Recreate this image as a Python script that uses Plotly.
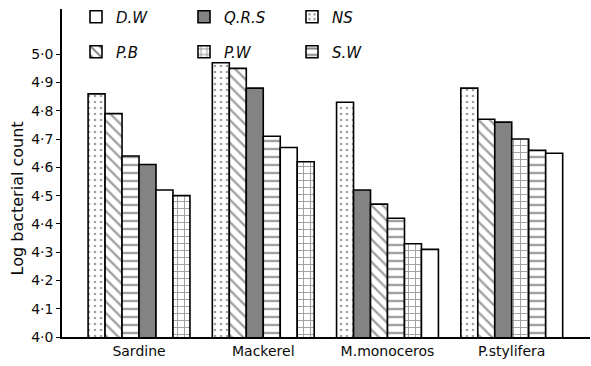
import plotly.graph_objects as go

# Fish groups on the x axis
groups = ["Sardine", "Mackerel", "M.monoceros", "P.stylifera"]

# Log bacterial count per treatment, one value per group
treatments = ["D.W", "Q.R.S", "NS", "P.B", "P.W", "S.W"]
dw = [4.52, 4.67, 4.31, 4.65]
qrs = [4.61, 4.88, 4.52, 4.76]
ns = [4.86, 4.97, 4.83, 4.88]
pb = [4.79, 4.95, 4.47, 4.77]
pw = [4.50, 4.62, 4.33, 4.70]
sw = [4.64, 4.71, 4.42, 4.66]
values = {"D.W": dw, "Q.R.S": qrs, "NS": ns, "P.B": pb, "P.W": pw, "S.W": sw}

y_ticks = [4.0, 4.1, 4.2, 4.3, 4.4, 4.5, 4.6, 4.7, 4.8, 4.9, 5.0]
y_tick_text = ["4·0", "4·1", "4·2", "4·3", "4·4", "4·5", "4·6", "4·7", "4·8", "4·9", "5·0"]

# Fill style for each treatment: (bar colour, pattern shape, pattern size, solidity)
styles = {
    "D.W": ("white", "", 8, 0.2),
    "Q.R.S": ("#838383", "", 8, 0.2),
    "NS": ("white", ".", 6, 0.16),
    "P.B": ("white", "\\", 8, 0.3),
    "P.W": ("white", "+", 7, 0.26),
    "S.W": ("white", "-", 8, 0.3),
}

LINE = dict(color="black", width=1.6)

fig = go.Figure()

# Within each group the bars run from the highest count to the lowest,
# so one trace is drawn per rank and styled bar by bar.
n_rank = len(treatments)
for rank in range(n_rank):
    ys, cols, shapes, sizes, sols = [], [], [], [], []
    for gi in range(len(groups)):
        ordered = sorted(treatments, key=lambda t: values[t][gi], reverse=True)
        t = ordered[rank]
        c, s, sz, so = styles[t]
        ys.append(values[t][gi])
        cols.append(c)
        shapes.append(s)
        sizes.append(sz)
        sols.append(so)
    fig.add_trace(go.Bar(
        x=groups, y=ys, showlegend=False, hoverinfo="x+y",
        marker=dict(color=cols, line=LINE,
                    pattern=dict(shape=shapes, size=sizes, solidity=sols,
                                 fgcolor="black", fillmode="overlay")),
    ))

# Legend swatches live on a hidden overlay axis so they do not take bar slots
row1 = ["D.W", "Q.R.S", "NS"]
row2 = ["P.B", "P.W", "S.W"]
for t in treatments:
    c, s, sz, so = styles[t]
    fig.add_trace(go.Bar(
        x=[None], y=[None], name=t, xaxis="x2", yaxis="y2",
        legend="legend" if t in row1 else "legend2",
        marker=dict(color=c, line=LINE,
                    pattern=dict(shape=s, size=sz, solidity=so,
                                 fgcolor="black", fillmode="overlay")),
    ))

FONT = "DejaVu Sans"
INK = "#0a0a0a"
PLOT_W = 591 - 62 - 1
PLOT_H = 366 - 8 - 29
legend_common = dict(
    orientation="h", xanchor="left", yanchor="middle",
    entrywidth=63, entrywidthmode="pixels",
    bgcolor="rgba(0,0,0,0)", borderwidth=0, traceorder="normal",
    font=dict(family=FONT, size=15, color=INK, style="italic"),
    itemclick=False, itemdoubleclick=False,
)

fig.update_layout(
    width=591, height=366,
    margin=dict(l=62, r=1, t=8, b=29),
    paper_bgcolor="white", plot_bgcolor="white",
    barmode="group", bargap=0.18, bargroupgap=0,
    font=dict(family=FONT, size=13, color=INK),
    xaxis=dict(range=[-0.62, 3.63], showline=True, linecolor="black", linewidth=1.6,
               ticks="", showgrid=False, zeroline=False,
               tickfont=dict(family=FONT, size=14, color=INK)),
    yaxis=dict(range=[4.0, 5.16], tickvals=y_ticks, ticktext=y_tick_text,
               ticks="outside", ticklen=4, tickwidth=1.4, tickcolor="black",
               showline=True, linecolor="black", linewidth=1.6,
               showgrid=False, zeroline=False,
               tickfont=dict(family=FONT, size=14, color=INK)),
    xaxis2=dict(overlaying="x", visible=False, range=[0, 1]),
    yaxis2=dict(overlaying="y", visible=False, range=[0, 1]),
    legend=dict(x=(76 - 62) / PLOT_W, y=(337 - 17) / PLOT_H, **legend_common),
    legend2=dict(x=(76 - 62) / PLOT_W, y=(337 - 52) / PLOT_H, **legend_common),
    annotations=[dict(
        text="Log bacterial count", textangle=-90, showarrow=False,
        xref="paper", yref="paper", x=(17 - 62) / PLOT_W, y=(337 - 198) / PLOT_H,
        xanchor="center", yanchor="middle",
        font=dict(family=FONT, size=16, color=INK),
    )],
)

fig.write_html("out.html")
